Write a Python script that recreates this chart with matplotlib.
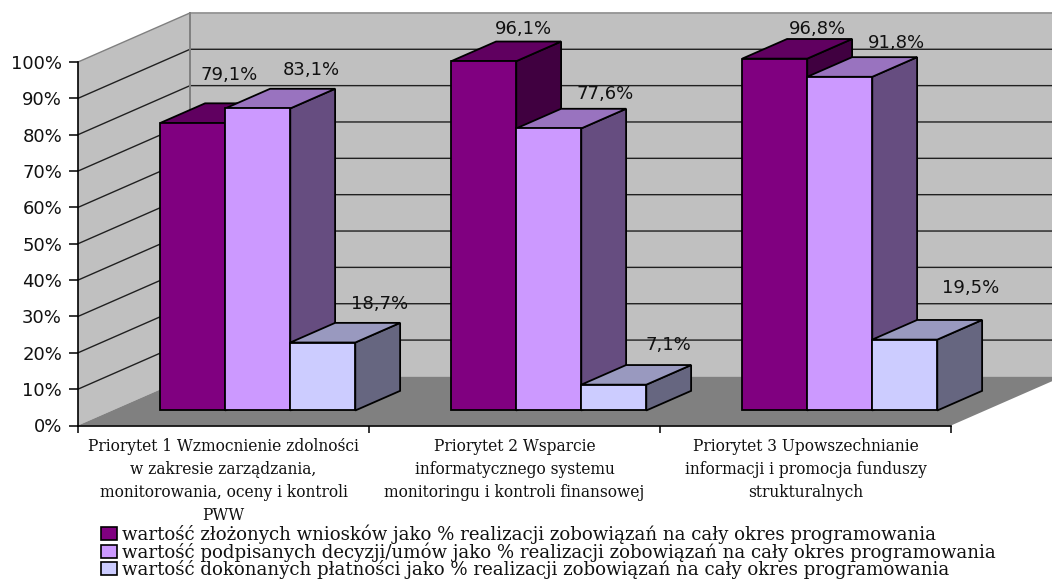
import matplotlib
matplotlib.use('Agg')
import matplotlib.pyplot as plt
from matplotlib.patches import Patch

# chart values
categories = ['Priorytet 1 Wzmocnienie zdolności\nw zakresie zarządzania,\nmonitorowania, oceny i kontroli\nPWW',
              'Priorytet 2 Wsparcie\ninformatycznego systemu\nmonitoringu i kontroli finansowej',
              'Priorytet 3 Upowszechnianie\ninformacji i promocja funduszy\nstrukturalnych']
wnioski = [79.1, 96.1, 96.8]
decyzje = [83.1, 77.6, 91.8]
platnosci = [18.7, 7.1, 19.5]
series_names = ['wartość złożonych wniosków jako % realizacji zobowiązań na cały okres programowania',
                'wartość podpisanych decyzji/umów jako % realizacji zobowiązań na cały okres programowania',
                'wartość dokonanych płatności jako % realizacji zobowiązań na cały okres programowania']
y_ticks = [0, 10, 20, 30, 40, 50, 60, 70, 80, 90, 100]

# colours: front, top, side of each series
front_colors = ['#800080', '#cc99ff', '#ccccff']
top_colors = ['#600060', '#9973bf', '#9999bf']
side_colors = ['#400040', '#664d80', '#666680']

# label offsets in pixels from the middle of the bar's front top edge
label_offsets = [[(36, 48), (54, 38), (57, 39)],
                 [(40, 32), (56, 34), (55, 40)],
                 [(43, 30), (57, 34), (66, 52)]]

# oblique depth of the whole box, in data units
depth_x = 0.385
depth_y = 13.5
bar_w = 0.2234
bar_start = 0.306   # where the bars sit in the depth of the box
bar_depth = 0.40


def proj(x, y, d):
    return x + d * depth_x, y + d * depth_y


def poly(ax, pts, **kw):
    ax.fill([p[0] for p in pts], [p[1] for p in pts], clip_on=False, **kw)


fig = plt.figure(figsize=(10.52, 5.8), dpi=100)
ax = fig.add_axes([78 / 1052, (580 - 425.5) / 580, 873 / 1052, 363.5 / 580])
ax.set_xlim(0, 3)
ax.set_ylim(0, 100)

# walls and floor
poly(ax, [proj(0, 0, 0), proj(0, 100, 0), proj(0, 100, 1), proj(0, 0, 1)], color='#c0c0c0', lw=0, zorder=1)
poly(ax, [proj(0, 0, 1), proj(0, 100, 1), proj(3, 100, 1), proj(3, 0, 1)], color='#c0c0c0', lw=0, zorder=1)
poly(ax, [proj(0, 0, 0), proj(3, 0, 0), proj(3, 0, 1), proj(0, 0, 1)], color='#808080', lw=0, zorder=1)

# gridlines run along the side wall and the back wall
for t in y_ticks[1:]:
    c = '#808080' if t == 100 else '#202020'
    a, b, e = proj(0, t, 0), proj(0, t, 1), proj(3, t, 1)
    ax.plot([a[0], b[0], e[0]], [a[1], b[1], e[1]], color=c, lw=1.0, clip_on=False, zorder=2)
a, b = proj(0, 0, 1), proj(0, 100, 1)
ax.plot([a[0], b[0]], [a[1], b[1]], color='#808080', lw=1.4, clip_on=False, zorder=2)

# bars, left to right so each one covers its neighbour's side
all_series = [wnioski, decyzje, platnosci]
z = 3
for i in range(len(categories)):
    left = i + 0.5 - 1.5 * bar_w
    for s, values in enumerate(all_series):
        v = values[i]
        x0 = left + s * bar_w
        x1 = x0 + bar_w
        d0 = bar_start
        d1 = bar_start + bar_depth
        style = dict(edgecolor='black', lw=1.3, joinstyle='miter', zorder=z)
        poly(ax, [proj(x1, 0, d0), proj(x1, v, d0), proj(x1, v, d1), proj(x1, 0, d1)], facecolor=side_colors[s], **style)
        poly(ax, [proj(x0, v, d0), proj(x1, v, d0), proj(x1, v, d1), proj(x0, v, d1)], facecolor=top_colors[s], **style)
        poly(ax, [proj(x0, 0, d0), proj(x1, 0, d0), proj(x1, v, d0), proj(x0, v, d0)], facecolor=front_colors[s], **style)
        z += 1
        ax.annotate(('%.1f%%' % v).replace('.', ','), proj((x0 + x1) / 2, v, d0),
                    xytext=label_offsets[i][s], textcoords='offset pixels',
                    ha='center', va='center', fontsize=13, color='#111111',
                    annotation_clip=False, zorder=50)

# axes
for name in ['top', 'right']:
    ax.spines[name].set_visible(False)
for name in ['left', 'bottom']:
    ax.spines[name].set_linewidth(1.2)
    ax.spines[name].set_zorder(40)
ax.patch.set_visible(False)
ax.set_yticks(y_ticks)
ax.set_yticklabels(['%d%%' % t for t in y_ticks], fontsize=13, color='#111111')
ax.tick_params(axis='y', length=6.5, width=1.1, pad=5)
ax.set_xticks([0, 1, 2, 3])
ax.set_xticklabels([])
ax.tick_params(axis='x', which='major', length=5, width=1.1)
ax.set_xticks([0.5, 1.5, 2.5], minor=True)
ax.set_xticklabels(categories, minor=True, family='DejaVu Serif', fontsize=11.2, linespacing=1.46, color='#111111')
ax.tick_params(axis='x', which='minor', length=0, pad=9)

# legend
handles = [Patch(facecolor=c, edgecolor='black', lw=1.2) for c in front_colors]
fig.legend(handles, series_names, loc='lower left', bbox_to_anchor=(101 / 1052, 0.002), frameon=False,
           prop={'family': 'DejaVu Serif', 'size': 13.1}, labelspacing=-0.1, handlelength=0.87,
           handleheight=0.7, handletextpad=0.28, borderpad=0, borderaxespad=0, labelcolor='#111111')

fig.savefig('out.png', dpi=100)
